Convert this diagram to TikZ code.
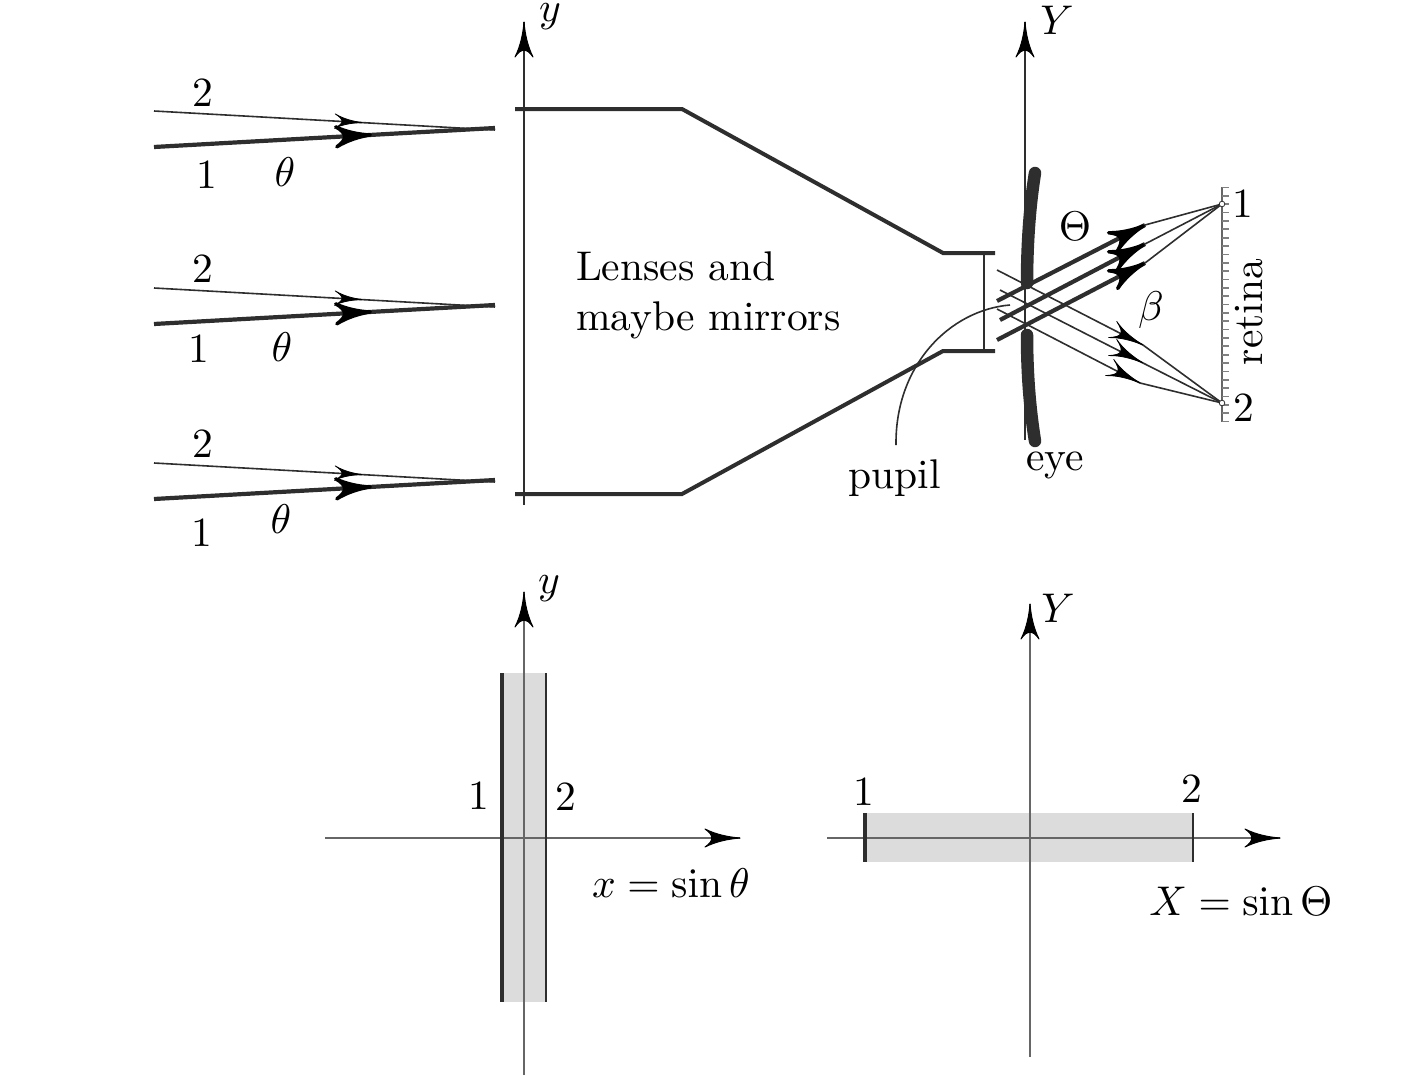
\documentclass[tikz,border=0pt]{standalone}
\usetikzlibrary{calc}
\definecolor{ink}{HTML}{2E2E2E}
\definecolor{band}{HTML}{DCDCDC}
\tikzset{
  x=1pt,y=-1pt,
  lab/.style={inner sep=0pt,outer sep=0pt,text=black,scale=4.15},
  thinray/.style={draw=ink,line width=1.6pt},
  thickray/.style={draw=ink,line width=4.2pt},
  axis/.style={draw=ink,line width=1.5pt},
  lowaxis/.style={draw=black!60,line width=1.1pt},
  lens/.style={draw=ink,line width=4pt,line join=miter},
  eye/.style={draw=ink,line width=12.5pt,line cap=round},
  barbs/.pic={\filldraw[black,line width=1pt,line join=round] (-35,-9) .. controls (-24,-3.5) and (-12,-1) .. (0,0) .. controls (-12,1) and (-24,3.5) .. (-35,9) .. controls (-26,3) and (-26,-3) .. cycle;},
  openbarbs/.pic={\filldraw[black,line width=0.8pt,line join=round] (-34,-9) .. controls (-24,-3.5) and (-12,-1) .. (0,0) .. controls (-12,1) and (-24,3.5) .. (-34,9) .. controls (-22,2) and (-22,-2) .. cycle;},
  heavybarbs/.pic={\filldraw[black,line width=3.4pt,line join=round] (-36,-10) .. controls (-25,-4) and (-12,-1) .. (-2,0) .. controls (-12,1) and (-25,4) .. (-36,10) .. controls (-25,3) and (-25,-3) .. cycle;},
}
\begin{document}
\begin{tikzpicture}
\useasboundingbox (0,0) rectangle (1410,1076);
% grey bands
\fill[band] (502,673) rectangle (546,1002);
\fill[band] (865,813) rectangle (1193,862);
% rays, three rows
\foreach \n/\d in {a/0,b/177,c/352}{
  \coordinate (\n s2) at (154,111+\d);
  \coordinate (\n s1) at (154,147+\d);
  \coordinate (\n e2) at (495,130+\d);
  \coordinate (\n e1) at (495,128+\d);
  \path[thinray] (\n s2) -- (\n e2);
  \path[thickray] (\n s1) -- (\n e1);
  \coordinate (\n t2) at ($(\n s2)!0.61!(\n e2)$);
  \coordinate (\n t1) at ($(\n s1)!0.64!(\n e1)$);
  \pic[rotate=-3.2,scale=0.8] at (\n t2) {openbarbs};
  \pic[rotate=3.2] at (\n t1) {heavybarbs};
}
% upper axes
\coordinate (ya0) at (524,505); \coordinate (ya1) at (524,22);
\coordinate (Ya0) at (1025,440); \coordinate (Ya1) at (1025,22);
\path[axis] (ya0) -- (ya1); \path[axis] (Ya0) -- (Ya1);
\pic[rotate=90] at (ya1) {barbs};
\pic[rotate=90] at (Ya1) {barbs};
% lens envelope
\path[lens] (515,109) -- (682,109) -- (943,253) -- (995,253);
\path[lens] (515,494) -- (682,494) -- (943,351) -- (995,351);
\draw[draw=ink,line width=2pt] (984,253) -- (984,351);
\draw[draw=ink,line width=1.6pt] (1010,305) .. controls (950,310) and (895,365) .. (896,445);
% eye
\path[eye] (1035,173) .. controls (1029,210) and (1027,250) .. (1027,283);
\path[eye] (1027,335) .. controls (1027,375) and (1030,410) .. (1035,441);
% rays at eye
\coordinate (r1) at (1222,204); \coordinate (r2) at (1222,403);
\foreach \n/\ax/\ay/\bx/\by in {p/997/301/1145/225,q/1000/320/1145/244,s/997/340/1145/263}{
  \coordinate (\n0) at (\ax,\ay); \coordinate (\n1) at (\bx,\by);
  \path[thickray] (\n0) -- (\n1);
  \pic[rotate=27.5] at (\n1) {heavybarbs};
  \draw[draw=ink,line width=1.6pt] (\n1) -- (r1);
}
\foreach \n/\ax/\ay/\bx/\by/\ang in {u/997/270/1143/345/-27,v/1000/290/1143/363/-27,w/997/309/1140/383/-27}{
  \coordinate (\n0) at (\ax,\ay); \coordinate (\n1) at (\bx,\by);
  \path[thinray] (\n0) -- (\n1);
  \pic[rotate=\ang] at (\n1) {openbarbs};
  \draw[draw=ink,line width=1.6pt] (\n1) -- (r2);
}
% retina
\draw[draw=black!60,line width=2pt] (1222,187) -- (1222,422);
\foreach \k in {0,...,28}{\draw[draw=gray,line width=1.7pt] (1222,{187.5+8.36*\k}) -- (1228.5,{187.5+8.36*\k});}
\draw[ink,fill=white,line width=0.8pt] (r1) circle (2.8);
\draw[ink,fill=white,line width=0.8pt] (r2) circle (2.8);
% lower left
\coordinate (la0) at (524,1075); \coordinate (la1) at (524,592);
\coordinate (lb0) at (325,838); \coordinate (lb1) at (740,838);
\path[lowaxis] (la0) -- (la1); \path[lowaxis] (lb0) -- (lb1);
\pic[rotate=90] at (la1) {barbs}; \pic at (lb1) {barbs};
\draw[draw=ink,line width=4pt] (502,673) -- (502,1002);
\draw[draw=ink,line width=2pt] (546,673) -- (546,1002);
% lower right
\coordinate (ra0) at (1030,1057); \coordinate (ra1) at (1030,604);
\coordinate (rb0) at (827,838); \coordinate (rb1) at (1280,838);
\path[lowaxis] (ra0) -- (ra1); \path[lowaxis] (rb0) -- (rb1);
\pic[rotate=90] at (ra1) {barbs}; \pic at (rb1) {barbs};
\draw[draw=ink,line width=4pt] (865,813) -- (865,862);
\draw[draw=ink,line width=2pt] (1193,813) -- (1193,862);
% labels
\begin{scope}[every node/.append style={lab}]
\node (t1) at (203,93) {2}; \node (t2) at (207,175) {1}; \node (t3) at (285,172) {$\theta$};
\node (t4) at (203,269) {2}; \node (t5) at (199,349) {1}; \node (t6) at (282,347) {$\theta$};
\node (t7) at (203,444) {2}; \node (t8) at (202,533) {1}; \node (t9) at (281,519) {$\theta$};
\node (t10) at (550,17) {$y$}; \node (t11) at (1057,20) {$Y$};
\node[anchor=base west] (t12) at (576,280) {Lenses and};
\node[anchor=base west] (t13) at (576,330) {maybe mirrors};
\node (t14) at (894.5,478) {pupil}; \node (t15) at (1055,465) {eye};
\node (t16) at (1075,226) {$\Theta$}; \node (t17) at (1151,310) {$\beta$};
\node (t18) at (1243,204) {1}; \node (t19) at (1244,408) {2};
\node[rotate=90] (t20) at (1249,312) {retina};
\node (t21) at (549,589) {$y$}; \node (t22) at (479,796) {1}; \node (t23) at (566,797) {2};
\node (t24) at (671,883) {$x=\sin\theta$};
\node (t25) at (1058,608) {$Y$}; \node (t26) at (864,792) {1}; \node (t27) at (1192,789) {2};
\node (t28) at (1241,901) {$X=\sin\Theta$};
\end{scope}
\end{tikzpicture}
\end{document}
